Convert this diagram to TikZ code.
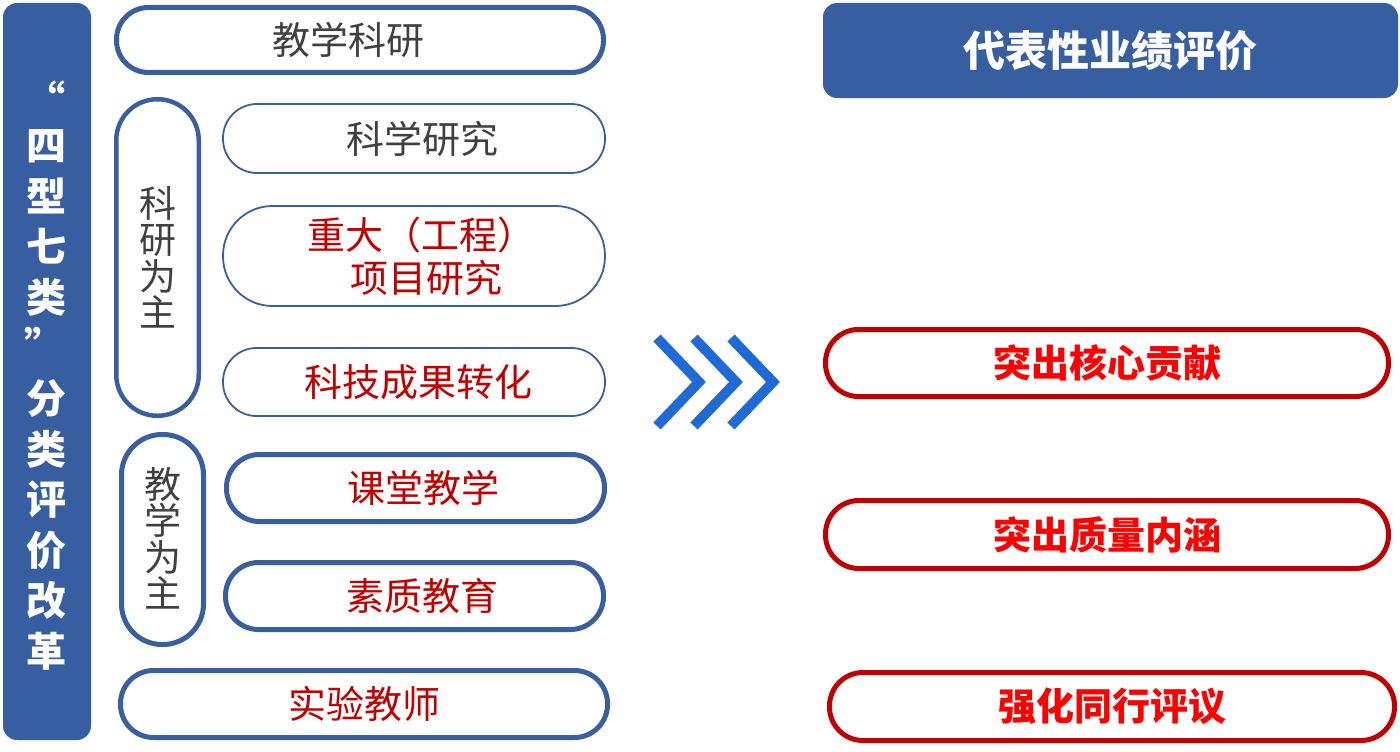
\documentclass[tikz,border=0pt]{standalone}
\usepackage{fontspec}
\newfontfamily\cjk{Noto Sans CJK SC}
\usetikzlibrary{shapes.misc}
\definecolor{barblue}{HTML}{365EA0}
\definecolor{lineblue}{HTML}{3A5FA0}
\definecolor{chevblue}{HTML}{1F6AD6}
\definecolor{darkred}{HTML}{C00000}
\definecolor{brightred}{HTML}{FF0000}
\definecolor{txtgray}{HTML}{404040}
\begin{document}
\begin{tikzpicture}[x=1pt,y=-1pt,
  pill/.style={draw=lineblue, rectangle, inner sep=0pt, align=center},
  thickpill/.style={pill, line width=5},
  thinpill/.style={pill, line width=1.8},
  redpill/.style={draw=darkred, line width=5, rectangle, inner sep=0pt, align=center,
    text=brightred, font=\cjk\bfseries\fontsize{38}{38}\selectfont},
  gtxt/.style={text=txtgray, font=\cjk\fontsize{38}{38}\selectfont},
  rtxt/.style={text=darkred, font=\cjk\fontsize{38}{43}\selectfont},
  vtxt/.style={text=txtgray, font=\cjk\fontsize{37}{36.5}\selectfont},
  bartxt/.style={text=white, inner sep=0pt, align=center, font=\cjk\bfseries\fontsize{40}{50.5}\selectfont},
  chev/.style={draw=chevblue, line width=10, miter limit=10}
]
\useasboundingbox (0,0) rectangle (1400,752);

% left bar
\node[fill=barblue, rounded corners=14, minimum width=88, minimum height=737, inner sep=0pt] (bar) at (47,371.5) {};
\node[bartxt] (q1) at (45,98) {“};
\node[bartxt] (t1) at (47,223) {四\\型\\七\\类};
\node[bartxt] (q2) at (44,344) {”};
\node[bartxt] (t2) at (47,525) {分\\类\\评\\价\\改\\革};

% left column
\node[thickpill, gtxt, minimum width=487, minimum height=65, rounded corners=32] (jxky) at (360,40) {\hspace{-24pt}教学科研};
\node[pill, line width=4.5, vtxt, minimum width=82.5, minimum height=316.5, rounded corners=41] (kywz) at (157.5,257.5) {科\\研\\为\\主};
\node[thinpill, gtxt, minimum width=382, minimum height=69, rounded corners=34] (kxyj) at (414,138.5) {\hspace{16pt}科学研究};
\node[thinpill, rtxt, minimum width=382, minimum height=100, rounded corners=49.5] (zdxm) at (414,256) {\hspace{14pt}重大（工程）\\\hspace{24pt}项目研究};
\node[thinpill, rtxt, minimum width=382, minimum height=68, rounded corners=33.5] (kjcg) at (414,382) {\hspace{8pt}科技成果转化};
\node[thickpill, vtxt, minimum width=82, minimum height=210, rounded corners=40.5] (jxwz) at (162.5,539.5) {\\[-8pt]教\\学\\为\\主};
\node[thickpill, rtxt, minimum width=378, minimum height=67, rounded corners=33] (ktjx) at (415.5,488) {\hspace{16pt}课堂教学};
\node[thickpill, rtxt, minimum width=378, minimum height=67, rounded corners=33] (szjy) at (414.5,596) {\hspace{16pt}素质教育};
\node[thickpill, rtxt, minimum width=487, minimum height=67, rounded corners=33] (syjs) at (364,704) {实验教师};

% chevrons
\coordinate (c1a) at (657,338); \coordinate (c1b) at (699,382); \coordinate (c1c) at (657,426);
\coordinate (c2a) at (694,338); \coordinate (c2b) at (736,382); \coordinate (c2c) at (694,426);
\coordinate (c3a) at (731,338); \coordinate (c3b) at (773,382); \coordinate (c3c) at (731,426);
\draw[chev] (c1a) -- (c1b) -- (c1c);
\draw[chev] (c2a) -- (c2b) -- (c2c);
\draw[chev] (c3a) -- (c3b) -- (c3c);

% right column
\node[fill=barblue, rounded corners=14, minimum width=575, minimum height=95, inner sep=0pt,
  text=white, font=\cjk\bfseries\fontsize{42}{42}\selectfont] (hdr) at (1110.5,50.5) {代表性业绩评价};
\node[redpill, minimum width=563, minimum height=67, rounded corners=33] (tchx) at (1107,363) {突出核心贡献};
\node[redpill, minimum width=563, minimum height=68, rounded corners=33.5] (tczl) at (1107,534.5) {突出质量内涵};
\node[redpill, minimum width=565, minimum height=68, rounded corners=33.5] (qhtx) at (1112,706.5) {强化同行评议};
\end{tikzpicture}
\end{document}
